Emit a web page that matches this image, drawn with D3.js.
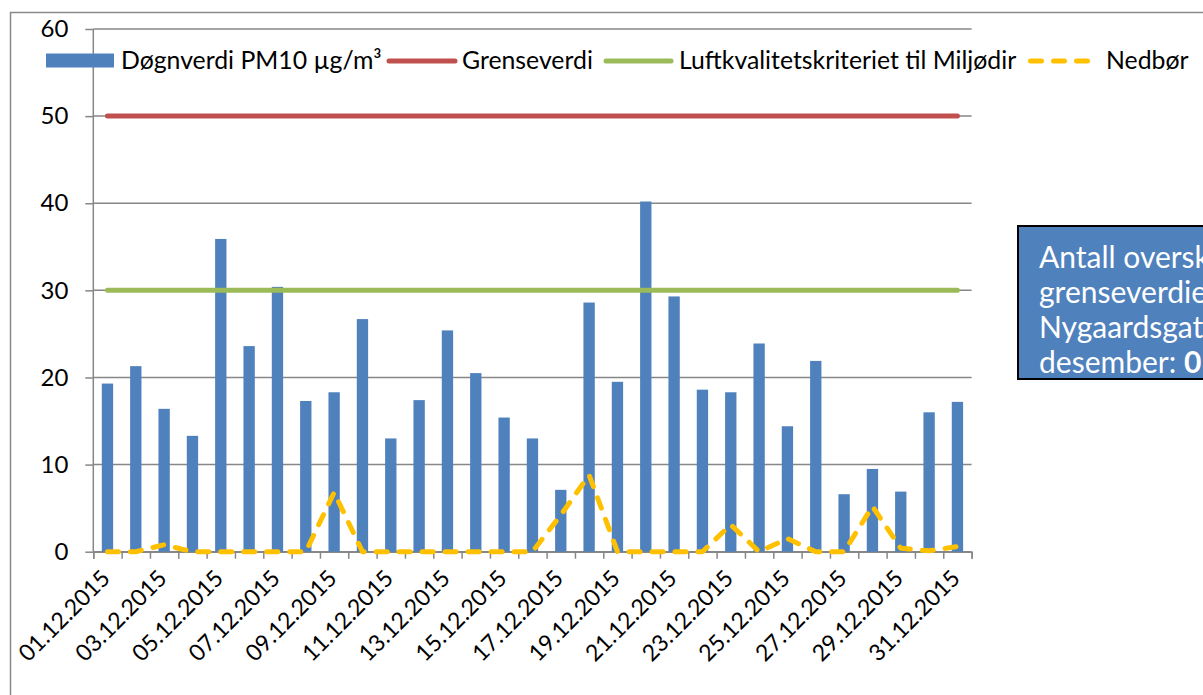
<!DOCTYPE html>
<html>
<head>
<meta charset="utf-8">
<script src="https://cdn.jsdelivr.net/npm/d3@7"></script>
<style>
  html, body { margin: 0; padding: 0; background: #fff; }
  svg { display: block; font-family: Lato, "Open Sans", sans-serif; }
</style>
</head>
<body>
<svg id="chart" width="1203" height="695"></svg>
<script>
// ---- data ----
const days = ["01.12.2015","02.12.2015","03.12.2015","04.12.2015","05.12.2015","06.12.2015","07.12.2015","08.12.2015","09.12.2015","10.12.2015",
  "11.12.2015","12.12.2015","13.12.2015","14.12.2015","15.12.2015","16.12.2015","17.12.2015","18.12.2015","19.12.2015","20.12.2015",
  "21.12.2015","22.12.2015","23.12.2015","24.12.2015","25.12.2015","26.12.2015","27.12.2015","28.12.2015","29.12.2015","30.12.2015","31.12.2015"];
const pm10 = [19.3,21.3,16.4,13.3,35.9,23.6,30.4,17.3,18.3,26.7,13.0,17.4,25.4,20.5,15.4,13.0,7.1,28.6,19.5,40.2,29.3,18.6,18.3,23.9,14.4,21.9,6.6,9.5,6.9,16.0,17.2];
const nedbor = [0,0,0.8,0,0,0,0,0,6.8,0,0,0,0,0,0,0,4.2,8.8,0,0,0,0,3.1,0,1.5,0,0,5.2,0.4,0.1,0.6];
const grenseverdi = days.map(() => 50);
const luftkvalitet = days.map(() => 30);
const yTicks = [0,10,20,30,40,50,60];
const xLabelDays = days.filter((d, i) => i % 2 === 0);
const seriesNames = ["Døgnverdi PM10 µg/m³", "Grenseverdi", "Luftkvalitetskriteriet til Miljødir", "Nedbør"];
const boxLines = ["Antall overskridelser av", "grenseverdien i", "Nygaardsgaten i"];
const boxLast = ["desember: ", "0"];

// ---- styles ----
const C = { bar: "#4F81BD", red: "#C0504D", green: "#9BBB59", yellow: "#FFC000", grid: "#878787" };

const svg = d3.select("#chart");
const pLeft = 93.3, pRight = 971.6, pTop = 29, pBottom = 551.7;

// outer chart border (cropped)
svg.append("rect").attr("x", 10.5).attr("y", 12.5).attr("width", 1400).attr("height", 900)
  .attr("fill", "#fff").attr("stroke", "#8a8a8a").attr("stroke-width", 1.5);

const x = d3.scaleBand().domain(days).range([pLeft, pRight]).paddingInner(0.6).paddingOuter(0.3);
const xLin = d3.scaleLinear().domain([0, days.length]).range([pLeft, pRight]);
const y = d3.scaleLinear().domain([0, 60]).range([pBottom, pTop]);
const cx = d => x(d) + x.bandwidth() / 2;

// gridlines + y axis
const yAxis = svg.append("g").attr("transform", `translate(${pLeft},0)`)
  .call(d3.axisLeft(y).tickValues(yTicks).tickSize(8).tickPadding(17).tickFormat(d3.format("d")));
yAxis.select(".domain").remove();
yAxis.selectAll(".tick line").attr("stroke", C.grid).attr("stroke-width", 1.5);
yAxis.selectAll(".tick text").attr("fill", "#000").style("font-size", "24px").style("font-family", "Lato");

svg.append("g").selectAll("line").data(yTicks).join("line")
  .attr("x1", pLeft).attr("x2", pRight).attr("y1", d => y(d)).attr("y2", d => y(d))
  .attr("stroke", C.grid).attr("stroke-width", 1.5);

svg.append("line").attr("x1", pLeft).attr("x2", pLeft).attr("y1", pTop).attr("y2", pBottom)
  .attr("stroke", C.grid).attr("stroke-width", 1.5);

// x axis ticks at category boundaries
const xAxis = svg.append("g").attr("transform", `translate(0,${pBottom})`)
  .call(d3.axisBottom(xLin).tickValues(d3.range(days.length + 1)).tickSize(7).tickFormat(""));
xAxis.select(".domain").attr("stroke", C.grid).attr("stroke-width", 1.5);
xAxis.selectAll(".tick line").attr("stroke", C.grid).attr("stroke-width", 1.5);

// bars
svg.append("g").selectAll("rect").data(days).join("rect")
  .attr("x", d => x(d)).attr("width", x.bandwidth())
  .attr("y", (d, i) => y(pm10[i])).attr("height", (d, i) => y(0) - y(pm10[i]))
  .attr("fill", C.bar);

// lines
const line = d3.line().x((v, i) => cx(days[i])).y(v => y(v));
svg.append("path").datum(grenseverdi).attr("d", line).attr("fill", "none")
  .attr("stroke", C.red).attr("stroke-width", 5).attr("stroke-linecap", "round");
svg.append("path").datum(luftkvalitet).attr("d", line).attr("fill", "none")
  .attr("stroke", C.green).attr("stroke-width", 5).attr("stroke-linecap", "round");
svg.append("path").datum(nedbor).attr("d", line).attr("fill", "none")
  .attr("stroke", C.yellow).attr("stroke-width", 5).attr("stroke-linecap", "round")
  .attr("stroke-linejoin", "round").attr("stroke-dasharray", "11,12");

// x labels
svg.append("g").selectAll("text").data(xLabelDays).join("text")
  .attr("transform", d => `translate(${cx(d) + 4},${pBottom + 28}) rotate(-45)`)
  .attr("text-anchor", "end").style("font-size", "23px").text(d => d);

// legend
const lg = svg.append("g");
const fs = "24.8px";
lg.append("rect").attr("x", 46).attr("y", 53.5).attr("width", 68).attr("height", 14).attr("fill", C.bar);
lg.append("text").attr("x", 121).attr("y", 69).style("font-size", fs).text(seriesNames[0]);
lg.append("line").attr("x1", 389).attr("x2", 455).attr("y1", 61).attr("y2", 61)
  .attr("stroke", C.red).attr("stroke-width", 5).attr("stroke-linecap", "round");
lg.append("text").attr("x", 462).attr("y", 69).style("font-size", fs).text(seriesNames[1]);
lg.append("line").attr("x1", 606).attr("x2", 671).attr("y1", 61).attr("y2", 61)
  .attr("stroke", C.green).attr("stroke-width", 5).attr("stroke-linecap", "round");
lg.append("text").attr("x", 679).attr("y", 69).style("font-size", fs).text(seriesNames[2]);
lg.append("line").attr("x1", 1030.5).attr("x2", 1091).attr("y1", 61).attr("y2", 61)
  .attr("stroke", C.yellow).attr("stroke-width", 5).attr("stroke-linecap", "round").attr("stroke-dasharray", "11,12");
lg.append("text").attr("x", 1106).attr("y", 69).style("font-size", fs).text(seriesNames[3]);

// text box
const box = svg.append("g");
box.append("rect").attr("x", 1018).attr("y", 226).attr("width", 400).attr("height", 153)
  .attr("fill", C.bar).attr("stroke", "#000").attr("stroke-width", 2);
boxLines.forEach((t, i) => {
  box.append("text").attr("x", 1039).attr("y", 268 + i * 35).attr("fill", "#fff")
    .style("font-size", "30px").text(t);
});
const lt = box.append("text").attr("x", 1039).attr("y", 268 + 3 * 35).attr("fill", "#fff").style("font-size", "30px");
lt.append("tspan").text(boxLast[0]);
lt.append("tspan").style("font-weight", "bold").text(boxLast[1]);
</script>
</body>
</html>
